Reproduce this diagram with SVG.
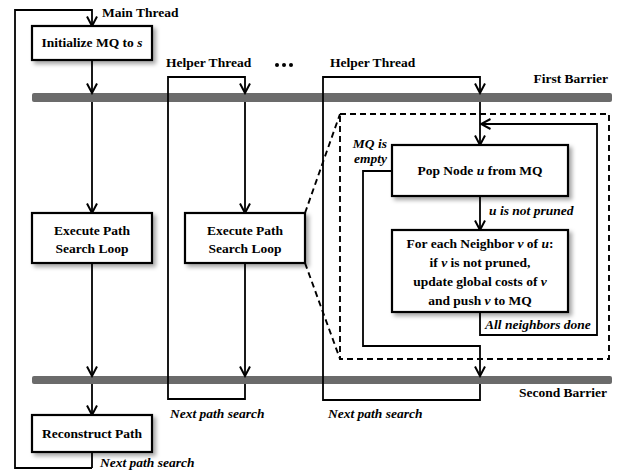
<svg xmlns="http://www.w3.org/2000/svg" width="626" height="471" viewBox="0 0 626 471">
<style>
  text { font-family: "Liberation Serif", "Times New Roman", serif; font-size: 13.5px; font-weight: bold; fill: #000; }
  .it { font-style: italic; }
  .mid { text-anchor: middle; }
  .end { text-anchor: end; }
  .box { fill: #fff; stroke: #000; stroke-width: 2.2; filter: url(#sh); }
  .ln { fill: none; stroke: #000; stroke-width: 1.8; }
  .arr { marker-end: url(#ah); }
  .dash { fill: none; stroke: #000; stroke-width: 1.9; stroke-dasharray: 6 4; }
  .bar { fill: #6b6b6b; }
</style>
<defs>
  <filter id="sh" x="-10%" y="-20%" width="130%" height="160%">
    <feDropShadow dx="3" dy="3" stdDeviation="2" flood-color="#000" flood-opacity="0.35"/>
  </filter>
  <marker id="ah" viewBox="0 0 12 12" refX="10.5" refY="6" markerWidth="12" markerHeight="12" markerUnits="userSpaceOnUse" orient="auto">
    <path d="M1,1 L10.5,6 L1,11" fill="none" stroke="#000" stroke-width="2"/>
  </marker>
</defs>

<!-- barriers -->
<g id="barriers">
  <rect class="bar" x="32" y="93" width="580" height="9" rx="2"/>
  <rect class="bar" x="32" y="376" width="580" height="8" rx="2"/>
  <text class="end" x="608" y="83">First Barrier</text>
  <text class="end" x="607" y="397">Second Barrier</text>
</g>

<!-- dashed zoom region -->
<g id="zoom-region">
  <rect class="dash" x="340" y="114" width="269" height="245"/>
  <line class="dash" x1="305" y1="213" x2="340" y2="114"/>
  <line class="dash" x1="305" y1="263" x2="340" y2="359"/>
</g>

<g id="connectors">
  <!-- main thread -->
  <path class="ln arr" d="M92,468 L15,468 L15,10 L92,10 L92,26"/>
  <path class="ln" d="M92,452 L92,468"/>
  <path class="ln arr" d="M92,60 L92,93"/>
  <path class="ln arr" d="M92,102 L92,213"/>
  <path class="ln arr" d="M92,263 L92,376"/>
  <path class="ln arr" d="M92,384 L92,415"/>
  <!-- helper thread 1 -->
  <path class="ln arr" d="M245,384 L245,399 L168,399 L168,77 L245,77 L245,93"/>
  <path class="ln arr" d="M245,102 L245,213"/>
  <path class="ln arr" d="M245,263 L245,376"/>
  <!-- helper thread 2 -->
  <path class="ln arr" d="M480,384 L480,400 L323,400 L323,77 L480,77 L480,93"/>
  <path class="ln arr" d="M480,102 L480,145"/>
  <path class="ln arr" d="M480,196 L480,230"/>
  <path class="ln arr" d="M480,312 L480,335 L597,335 L597,124 L481,124"/>
  <path class="ln arr" d="M392,171 L363,171 L363,346 L480,346 L480,376"/>
</g>

<g id="dots">
  <circle cx="277" cy="65" r="2"/>
  <circle cx="284" cy="65" r="2"/>
  <circle cx="291" cy="65" r="2"/>
</g>

<g id="labels">
  <text x="102" y="17">Main Thread</text>
  <text x="166" y="67">Helper Thread</text>
  <text x="330" y="67">Helper Thread</text>
  <text class="it" x="170" y="418">Next path search</text>
  <text class="it" x="328" y="418">Next path search</text>
  <text class="it" x="100" y="467">Next path search</text>
  <text class="it end" x="387" y="148">MQ is</text>
  <text class="it end" x="387" y="163">empty</text>
  <text class="it" x="489" y="215">u is not pruned</text>
  <text class="it" x="485" y="329">All neighbors done</text>
</g>

<g id="node-init">
  <rect class="box" x="32" y="26" width="120" height="34"/>
  <text class="mid" x="92" y="47">Initialize MQ to <tspan class="it">s</tspan></text>
</g>
<g id="node-exec-main">
  <rect class="box" x="32" y="213" width="120" height="50"/>
  <text class="mid" x="92" y="235">Execute Path</text>
  <text class="mid" x="92" y="253">Search Loop</text>
</g>
<g id="node-exec-helper">
  <rect class="box" x="185" y="213" width="120" height="50"/>
  <text class="mid" x="245" y="235">Execute Path</text>
  <text class="mid" x="245" y="253">Search Loop</text>
</g>
<g id="node-reconstruct">
  <rect class="box" x="32" y="415" width="120" height="37"/>
  <text class="mid" x="92" y="438">Reconstruct Path</text>
</g>
<g id="node-pop">
  <rect class="box" x="392" y="145" width="176" height="51"/>
  <text class="mid" x="480" y="175">Pop Node <tspan class="it">u</tspan> from MQ</text>
</g>
<g id="node-foreach">
  <rect class="box" x="392" y="230" width="176" height="82"/>
  <text class="mid" x="480" y="248">For each Neighbor <tspan class="it">v</tspan> of <tspan class="it">u</tspan>:</text>
  <text class="mid" x="480" y="267">if <tspan class="it">v</tspan> is not pruned,</text>
  <text class="mid" x="480" y="286">update global costs of <tspan class="it">v</tspan></text>
  <text class="mid" x="480" y="305">and push <tspan class="it">v</tspan> to MQ</text>
</g>
</svg>
